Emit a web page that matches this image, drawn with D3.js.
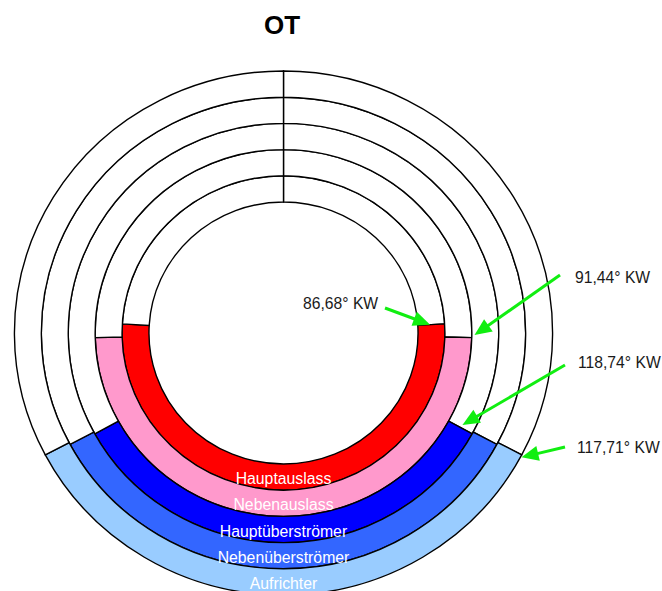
<!DOCTYPE html>
<html>
<head>
<meta charset="utf-8">
<script src="https://cdn.jsdelivr.net/npm/d3@7"></script>
<style>
  html, body { margin: 0; padding: 0; background: #fff; }
  svg { display: block; font-family: "Liberation Sans", Arial, sans-serif; }
</style>
</head>
<body>
<svg id="chart" width="662" height="591"></svg>
<script>
// Port timing (Steuerdiagramm), crank angle in degrees after OT
const ports = ["Hauptauslass", "Nebenauslass", "Hauptüberströmer", "Nebenüberströmer", "Aufrichter"];
const openAngles = [86.68, 91.44, 118.74, 118.2, 117.71];
const portColors = ["#ff0000", "#ff99cc", "#0000ff", "#3366ff", "#99ccff"];

// Annotated opening angles
const noteAngles = [86.68, 91.44, 118.74, 117.71];
const titleText = "OT";

const W = 662, H = 591;
const cx = 283.5, cy = 333;
const stretch = 1.027;            // the diagram is slightly wider than tall

const svg = d3.select("#chart");

const de = d3.formatLocale({ decimal: ",", thousands: ".", grouping: [3], currency: ["", " €"] });
const fmt = de.format(".2f");

const radius = d3.scaleBand().domain(ports).range([131, 262]);
const angle = d3.scaleLinear().domain([0, 360]).range([0, 2 * Math.PI]);

const arc = d3.arc()
  .innerRadius(d => radius(d.port))
  .outerRadius(d => radius(d.port) + radius.bandwidth())
  .startAngle(d => angle(d.s))
  .endAngle(d => angle(d.e));

// each ring: closed (white) – open (coloured) – closed (white)
const segments = [];
ports.forEach((p, i) => {
  const a = openAngles[i];
  segments.push({ port: p, s: 0, e: a, fill: "#ffffff" });
  segments.push({ port: p, s: a, e: 360 - a, fill: portColors[i] });
  segments.push({ port: p, s: 360 - a, e: 360, fill: "#ffffff" });
});

const g = svg.append("g")
  .attr("transform", `translate(${cx},${cy}) scale(${stretch},1)`);

g.selectAll("path.seg")
  .data(segments)
  .join("path")
  .attr("class", "seg")
  .attr("d", arc)
  .attr("fill", d => d.fill)
  .attr("stroke", "#000")
  .attr("stroke-width", 1.4)
  .attr("stroke-linejoin", "miter")
  .attr("vector-effect", "non-scaling-stroke");

// ring names at the bottom of each ring
svg.selectAll("text.port")
  .data(ports)
  .join("text")
  .attr("class", "port")
  .attr("x", cx)
  .attr("y", p => cy + radius(p) + radius.bandwidth() / 2 + 1.5)
  .attr("text-anchor", "middle")
  .attr("dominant-baseline", "central")
  .attr("fill", "#ffffff")
  .style("font-size", "15.8px")
  .text(p => p);

// title
svg.append("text")
  .attr("x", 282)
  .attr("y", 34)
  .attr("text-anchor", "middle")
  .style("font-size", "26px")
  .style("font-weight", "bold")
  .attr("fill", "#000")
  .text(titleText);

// annotations
function polar(aDeg, r) {
  const a = angle(aDeg);
  return [cx + stretch * r * Math.sin(a), cy - r * Math.cos(a)];
}

const noteLayout = [
  { tx: 303, ty: 303, sx: 385, sy: 308, da: 0, r: 143 },
  { tx: 575, ty: 277, sx: 560, sy: 275, da: -0.8, r: 186 },
  { tx: 578, ty: 362, sx: 565, sy: 365, da: -0.94, r: 197 },
  { tx: 577, ty: 447, sx: 565, sy: 447, da: 0.5, r: 263 }
];

const green = "#11ee11";
noteAngles.forEach((a, i) => {
  const L = noteLayout[i];
  const [tx, ty] = polar(a + L.da, L.r);
  const dx = tx - L.sx, dy = ty - L.sy;
  const len = Math.hypot(dx, dy);
  const ux = dx / len, uy = dy / len;
  const head = 17, hw = 7.5;
  const bx = tx - ux * head, by = ty - uy * head;
  svg.append("line")
    .attr("x1", L.sx).attr("y1", L.sy)
    .attr("x2", bx + ux * 2).attr("y2", by + uy * 2)
    .attr("stroke", green)
    .attr("stroke-width", 3);
  svg.append("path")
    .attr("d", `M${tx},${ty}L${bx - uy * hw},${by + ux * hw}L${bx + uy * hw},${by - ux * hw}Z`)
    .attr("fill", green);
  svg.append("text")
    .attr("x", L.tx)
    .attr("y", L.ty)
    .attr("dominant-baseline", "central")
    .attr("fill", "#1a1a1a")
    .style("font-size", "15.7px")
    .text(`${fmt(a)}° KW`);
});
</script>
</body>
</html>
